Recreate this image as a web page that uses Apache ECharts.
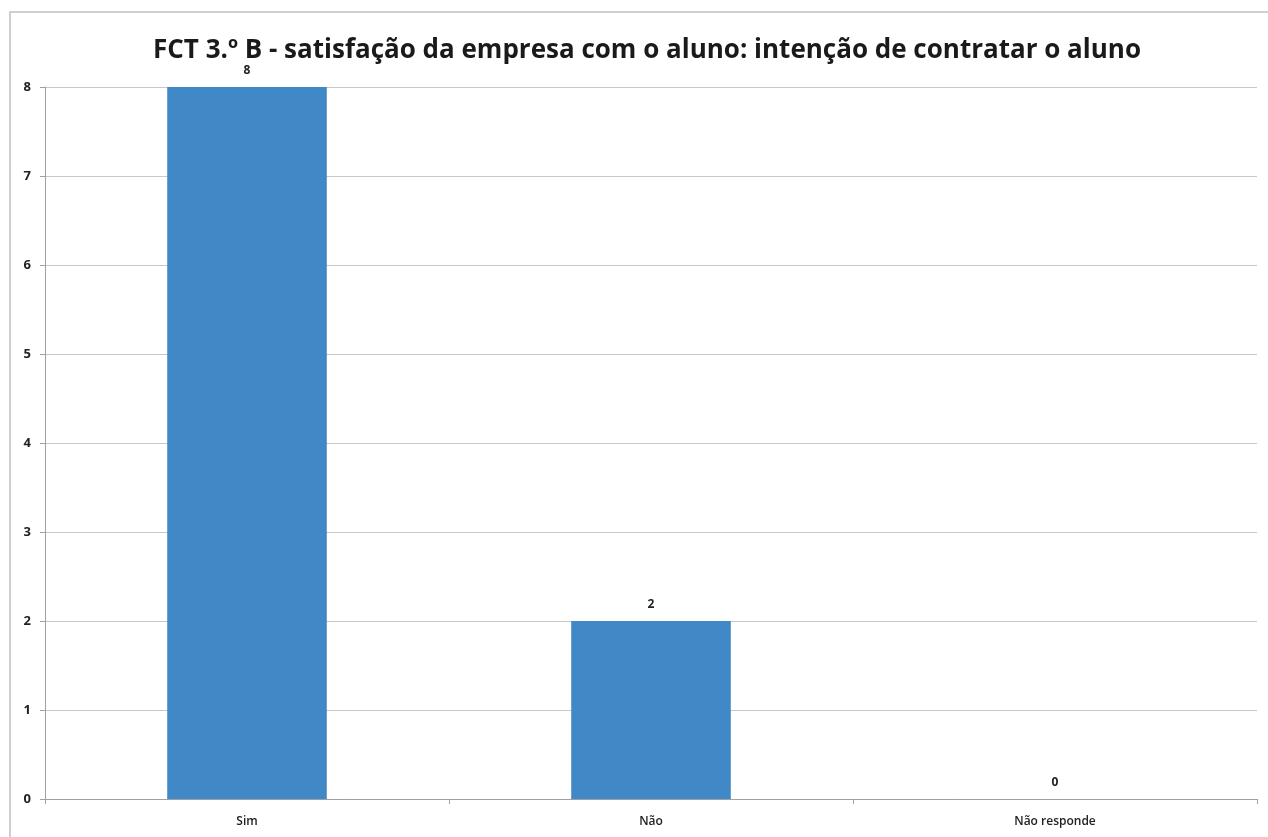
<!DOCTYPE html>
<html><head><meta charset="utf-8">
<script src="https://cdn.jsdelivr.net/npm/echarts@6/dist/echarts.min.js"></script>
<style>html,body{margin:0;padding:0;background:#fff}#c{width:1268px;height:837px}</style>
</head><body><div id="c"></div>
<script>
const titleText = 'FCT 3.º B - satisfação da empresa com o aluno: intenção de contratar o aluno';
const categories = ['Sim', 'Não', 'Não responde'];
const values = [8, 2, 0];
const yTicks = [0, 1, 2, 3, 4, 5, 6, 7, 8];

const chart = echarts.init(document.getElementById('c'));
chart.setOption({
  animation: false,
  backgroundColor: '#fff',
  title: {
    text: titleText, left: 148, top: 33,
    textStyle: {fontFamily: 'Open Sans', fontWeight: 'bold', fontSize: 26, color: '#1a1a1a'}
  },
  graphic: [{
    type: 'polyline', silent: true,
    shape: {points: [[10, 837], [10, 12], [1268, 12]]},
    style: {stroke: '#cfcfcf', lineWidth: 2, fill: null}
  }],
  grid: {left: 45, right: 11, top: 87, bottom: 38, containLabel: false},
  xAxis: {
    type: 'category', data: categories,
    axisLine: {lineStyle: {color: '#a0a0a0'}},
    axisTick: {show: true, alignWithLabel: false, length: 5, lineStyle: {color: '#a0a0a0'}},
    axisLabel: {color: '#222', fontFamily: 'Open Sans', fontWeight: 600, fontSize: 12, margin: 17}
  },
  yAxis: {
    type: 'value', min: yTicks[0], max: yTicks[yTicks.length - 1], interval: 1,
    axisLine: {show: true, lineStyle: {color: '#a0a0a0'}},
    axisTick: {show: true, length: 5, lineStyle: {color: '#a0a0a0'}},
    splitLine: {lineStyle: {color: '#c8c8c8'}},
    axisLabel: {color: '#222', fontFamily: 'Open Sans', fontWeight: 'bold', fontSize: 13, margin: 14}
  },
  series: [{
    type: 'bar', data: values, barWidth: '39.5%',
    itemStyle: {color: '#4189c6'},
    label: {show: true, position: 'top', distance: 10, color: '#222', fontFamily: 'Open Sans', fontWeight: 'bold', fontSize: 12}
  }]
});
</script></body></html>
